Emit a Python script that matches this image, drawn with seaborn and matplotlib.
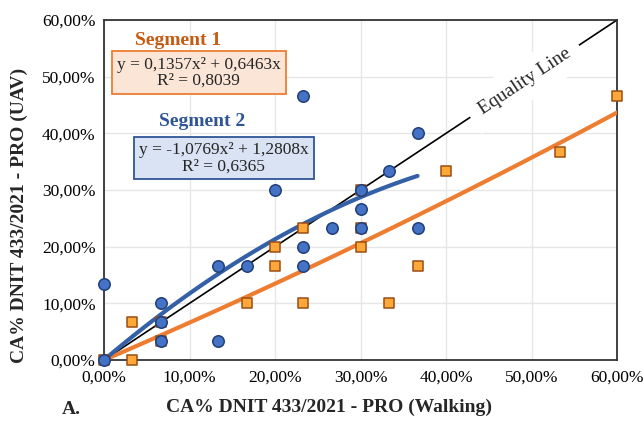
import numpy as np
import pandas as pd
import matplotlib
matplotlib.use("Agg")
import matplotlib.pyplot as plt
import seaborn as sns
from matplotlib.ticker import FuncFormatter

# ---- data (fractions) ----
seg2_x = [0.0, 0.0, 0.0667, 0.0667, 0.0667, 0.1333, 0.1333, 0.1667, 0.20, 0.2333, 0.2333,
          0.2333, 0.2667, 0.30, 0.30, 0.30, 0.3333, 0.3667, 0.3667]
seg2_y = [0.0, 0.1333, 0.10, 0.0667, 0.0333, 0.1667, 0.0333, 0.1667, 0.30, 0.4667, 0.20,
          0.1667, 0.2333, 0.30, 0.2667, 0.2333, 0.3333, 0.40, 0.2333]

seg1_x = [0.0, 0.0333, 0.0333, 0.0667, 0.0667, 0.1667, 0.20, 0.20, 0.2333, 0.2333, 0.30,
          0.30, 0.30, 0.3333, 0.3667, 0.40, 0.5333, 0.60]
seg1_y = [0.0, 0.0667, 0.0, 0.0667, 0.0333, 0.10, 0.20, 0.1667, 0.2333, 0.10, 0.30,
          0.2333, 0.20, 0.10, 0.1667, 0.3333, 0.3667, 0.4667]

seg1_coef = [0.1357, 0.6463]   # y = a x^2 + b x
seg1_r2 = 0.8039
seg1_xmax = 0.60
seg2_coef = [-1.0769, 1.2808]
seg2_r2 = 0.6365
seg2_xmax = 0.3667

ticks = [0.0, 0.1, 0.2, 0.3, 0.4, 0.5, 0.6]

xlabel = "CA% DNIT 433/2021 - PRO (Walking)"
ylabel = "CA% DNIT 433/2021 - PRO (UAV)"

# ---- style ----
sns.set_theme(style="white")
plt.rcParams['font.family'] = ['Liberation Serif', 'DejaVu Serif']

fig = plt.figure(figsize=(6.43, 4.22), dpi=100)
ax = fig.add_axes([104/643, 62/422, (617-104)/643, (360-20)/422])

ORANGE_LINE = "#ED7D31"
BLUE_LINE = "#3460A8"

# equality line
eq = pd.DataFrame({"x": [0.0, 0.6], "y": [0.0, 0.6]})
sns.lineplot(data=eq, x="x", y="y", ax=ax, color="black", lw=1.2, zorder=2)

# trend lines
xs1 = np.linspace(0, seg1_xmax, 100)
t1 = pd.DataFrame({"x": xs1, "y": seg1_coef[0]*xs1**2 + seg1_coef[1]*xs1})
sns.lineplot(data=t1, x="x", y="y", ax=ax, color=ORANGE_LINE, lw=3, zorder=3)
xs2 = np.linspace(0, seg2_xmax, 100)
t2 = pd.DataFrame({"x": xs2, "y": seg2_coef[0]*xs2**2 + seg2_coef[1]*xs2})
sns.lineplot(data=t2, x="x", y="y", ax=ax, color=BLUE_LINE, lw=3, zorder=3)

# points
d1 = pd.DataFrame({"x": seg1_x, "y": seg1_y})
sns.scatterplot(data=d1, x="x", y="y", ax=ax, marker="s", s=62, color="#FFA83A",
                edgecolor="#9A4E14", linewidth=1.1, zorder=4, clip_on=False)
d2 = pd.DataFrame({"x": seg2_x, "y": seg2_y})
sns.scatterplot(data=d2, x="x", y="y", ax=ax, marker="o", s=68, color="#4472C4",
                edgecolor="#223F7A", linewidth=1.1, zorder=5, clip_on=False)

# axes formatting
ax.set_xlim(0, 0.6)
ax.set_ylim(0, 0.6)
ax.set_xticks(ticks)
ax.set_yticks(ticks)
fmt = FuncFormatter(lambda v, p: f"{v*100:.2f}%".replace(".", ","))
ax.xaxis.set_major_formatter(fmt)
ax.yaxis.set_major_formatter(fmt)
ax.tick_params(axis="both", length=0, labelsize=12.5, colors="black")
ax.tick_params(axis="x", pad=7)
ax.tick_params(axis="y", pad=6)
ax.grid(True, color="#E6E6E6", lw=1)
ax.set_axisbelow(True)
for s in ax.spines.values():
    s.set_visible(True)
    s.set_color("#333333")
    s.set_linewidth(1.3)

ax.set_xlabel(xlabel, fontsize=14, fontweight="bold")
ax.set_ylabel(ylabel, fontsize=14, fontweight="bold")
ax.xaxis.set_label_coords((329-104)/513, -(399-360)/340)
ax.yaxis.set_label_coords((28-104)/513, (360-215)/340)

# equality label
ax.text(0.492, 0.492, "Equality Line", fontsize=14, rotation=45, transform_rotates_text=True,
        rotation_mode="anchor", ha="center", va="center", zorder=2.5,
        bbox=dict(boxstyle="square,pad=0.6", fc="white", ec="none"))

# segment labels
ax.text(0.0865, 0.564, "Segment 1", color="#C55A11", fontsize=14, fontweight="bold",
        ha="center", va="center")
ax.text(0.111, 0.507,
        f"y = {seg1_coef[0]:.4f}x² + {seg1_coef[1]:.4f}x\nR² = {seg1_r2:.4f}".replace(".", ","),
        fontsize=12.5, ha="center", va="center", linespacing=1.0,
        bbox=dict(boxstyle="square,pad=0.3", fc="#FBE5D6", ec="#ED7D31", lw=1.3))
ax.text(0.115, 0.42, "Segment 2", color="#2F5597", fontsize=14, fontweight="bold",
        ha="center", va="center")
ax.text(0.140, 0.356,
        f"y = {seg2_coef[0]:.4f}x² + {seg2_coef[1]:.4f}x\nR² = {seg2_r2:.4f}".replace(".", ","),
        fontsize=12.5, ha="center", va="center", linespacing=1.0,
        bbox=dict(boxstyle="square,pad=0.3", fc="#DAE3F3", ec="#2F5597", lw=1.3))

fig.text(62/643, 1 - 410/422, "A.", fontsize=14, fontweight="bold", ha="left", va="center")

fig.savefig("out.png", dpi=100)
